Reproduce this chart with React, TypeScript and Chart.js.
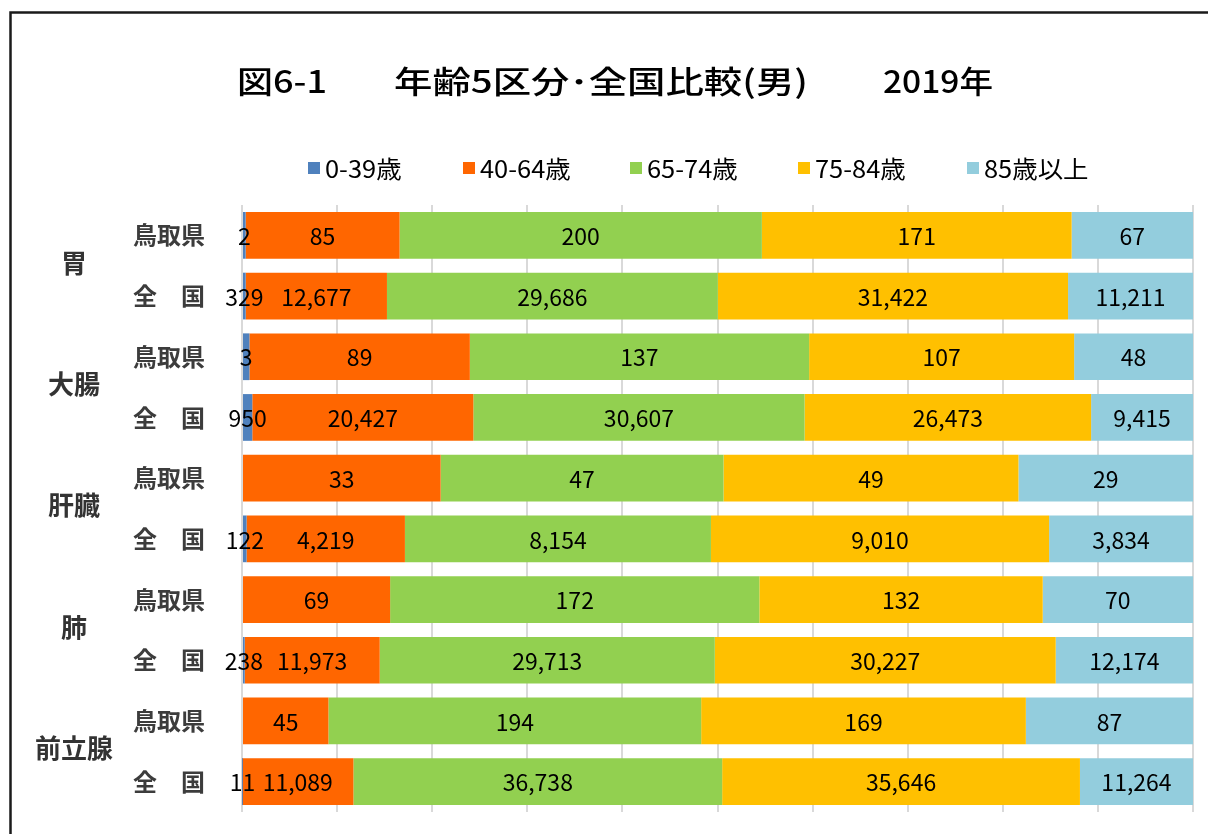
import React, { useEffect, useRef } from 'react';
import { Chart, registerables } from 'chart.js';

Chart.register(...registerables);

// ---- data ----
const rowLabels = ['鳥取県', '全　国', '鳥取県', '全　国', '鳥取県', '全　国', '鳥取県', '全　国', '鳥取県', '全　国'];
const organs = ['胃', '大腸', '肝臓', '肺', '前立腺'];
const seriesNames = ['0-39歳', '40-64歳', '65-74歳', '75-84歳', '85歳以上'];
const age0to39 = [2, 329, 3, 950, 0, 122, 0, 238, 0, 11];
const age40to64 = [85, 12677, 89, 20427, 33, 4219, 69, 11973, 45, 11089];
const age65to74 = [200, 29686, 137, 30607, 47, 8154, 172, 29713, 194, 36738];
const age75to84 = [171, 31422, 107, 26473, 49, 9010, 132, 30227, 169, 35646];
const age85plus = [67, 11211, 48, 9415, 29, 3834, 70, 12174, 87, 11264];
const titleParts = ['図6-1', '年齢5区分･全国比較(男)', '2019年'];

const seriesColors = ['#4F81BD', '#FF6600', '#92D050', '#FFC000', '#93CDDD'];

const FONT = '"Noto Sans CJK JP", "Noto Sans", sans-serif';

export default function App() {
  const canvasRef = useRef<HTMLCanvasElement | null>(null);

  useEffect(() => {
    const canvas = canvasRef.current;
    if (!canvas) return;
    const raw = [age0to39, age40to64, age65to74, age75to84, age85plus];
    const totals = rowLabels.map((_, i) => raw.reduce((s, arr) => s + arr[i], 0));
    const pct = raw.map((arr) => arr.map((v, i) => (v / totals[i]) * 100));

    const decor = {
      id: 'decor',
      beforeDraw(chart: any) {
        const ctx = chart.ctx;
        ctx.save();
        ctx.fillStyle = '#ffffff';
        ctx.fillRect(0, 0, chart.width, chart.height);
        ctx.strokeStyle = '#1a1a1a';
        ctx.lineWidth = 2.5;
        ctx.strokeRect(10.5, 12.5, 1400, 1000);
        ctx.restore();
      },
      afterDatasetsDraw(chart: any) {
        const ctx = chart.ctx;
        ctx.save();
        ctx.font = `23px ${FONT}`;
        ctx.fillStyle = '#000000';
        ctx.textAlign = 'center';
        ctx.textBaseline = 'middle';
        raw.forEach((arr, d) => {
          const meta = chart.getDatasetMeta(d);
          meta.data.forEach((el: any, i: number) => {
            const v = arr[i];
            if (!v) return;
            const cx = (el.x + el.base) / 2;
            ctx.fillText(v.toLocaleString('en-US'), cx, el.y + 1);
          });
        });
        ctx.restore();
      },
      afterDraw(chart: any) {
        const ctx = chart.ctx;
        ctx.save();
        // title
        ctx.fillStyle = '#000000';
        ctx.textBaseline = 'middle';
        ctx.textAlign = 'left';
        ctx.font = `500 31px ${FONT}`;
        const titleX = [237, 394, 883];
        const titleW = [90, 414, 110];
        titleParts.forEach((t, k) => {
          const w = ctx.measureText(t).width;
          ctx.save();
          ctx.translate(titleX[k], 81);
          ctx.scale(titleW[k] / w, 1);
          ctx.fillText(t, 0, 0);
          ctx.restore();
        });
        // legend
        const legX = [308, 463, 630, 798, 967];
        ctx.font = `24px ${FONT}`;
        seriesNames.forEach((name, k) => {
          ctx.fillStyle = seriesColors[k];
          ctx.fillRect(legX[k], 162, 12, 12);
          ctx.fillStyle = '#000000';
          ctx.save();
          ctx.translate(legX[k] + 17, 169);
          ctx.scale(1.06, 1);
          ctx.fillText(name, 0, 0);
          ctx.restore();
        });
        // group labels
        const y = chart.scales.y;
        ctx.font = `bold 26px ${FONT}`;
        ctx.fillStyle = '#333333';
        ctx.textAlign = 'center';
        organs.forEach((o, g) => {
          const yy = (y.getPixelForTick(2 * g) + y.getPixelForTick(2 * g + 1)) / 2;
          ctx.fillText(o, 74, yy - 3);
        });
        ctx.restore();
      },
    };

    const chart = new Chart(canvas, {
      type: 'bar',
      data: {
        labels: rowLabels,
        datasets: seriesNames.map((name, k) => ({
          label: name,
          data: pct[k],
          backgroundColor: seriesColors[k],
          borderWidth: 0,
          barPercentage: 0.77,
          categoryPercentage: 1.0,
        })),
      },
      options: {
        indexAxis: 'y',
        responsive: false,
        animation: false,
        layout: { padding: { top: 205, right: 15, bottom: 22, left: 0 } },
        plugins: {
          legend: { display: false },
          title: { display: false },
          tooltip: { enabled: false },
        },
        scales: {
          x: {
            stacked: true,
            min: 0,
            max: 100,
            ticks: { display: false, stepSize: 10 },
            grid: { color: '#D9D9D9', lineWidth: 2, drawTicks: false },
            border: { display: false },
            afterFit: (s: any) => {
              s.height = 0;
              s.paddingLeft = 0;
              s.paddingRight = 0;
            },
          },
          y: {
            stacked: true,
            grid: { display: false, drawTicks: false },
            border: { display: false },
            ticks: {
              padding: 37,
              color: '#3c3c3c',
              font: { family: FONT, size: 24, weight: 'bold' },
            },
            afterFit: (s: any) => {
              s.width = 242;
              s.paddingTop = 0;
              s.paddingBottom = 0;
            },
          },
        },
      },
      plugins: [decor],
    } as any);

    return () => {
      chart.destroy();
    };
  }, []);

  return (
    <div style={{ position: 'fixed', left: 0, top: 0, width: 1208, height: 834 }}>
      <canvas ref={canvasRef} width={1208} height={834} style={{ display: 'block' }} />
    </div>
  );
}
